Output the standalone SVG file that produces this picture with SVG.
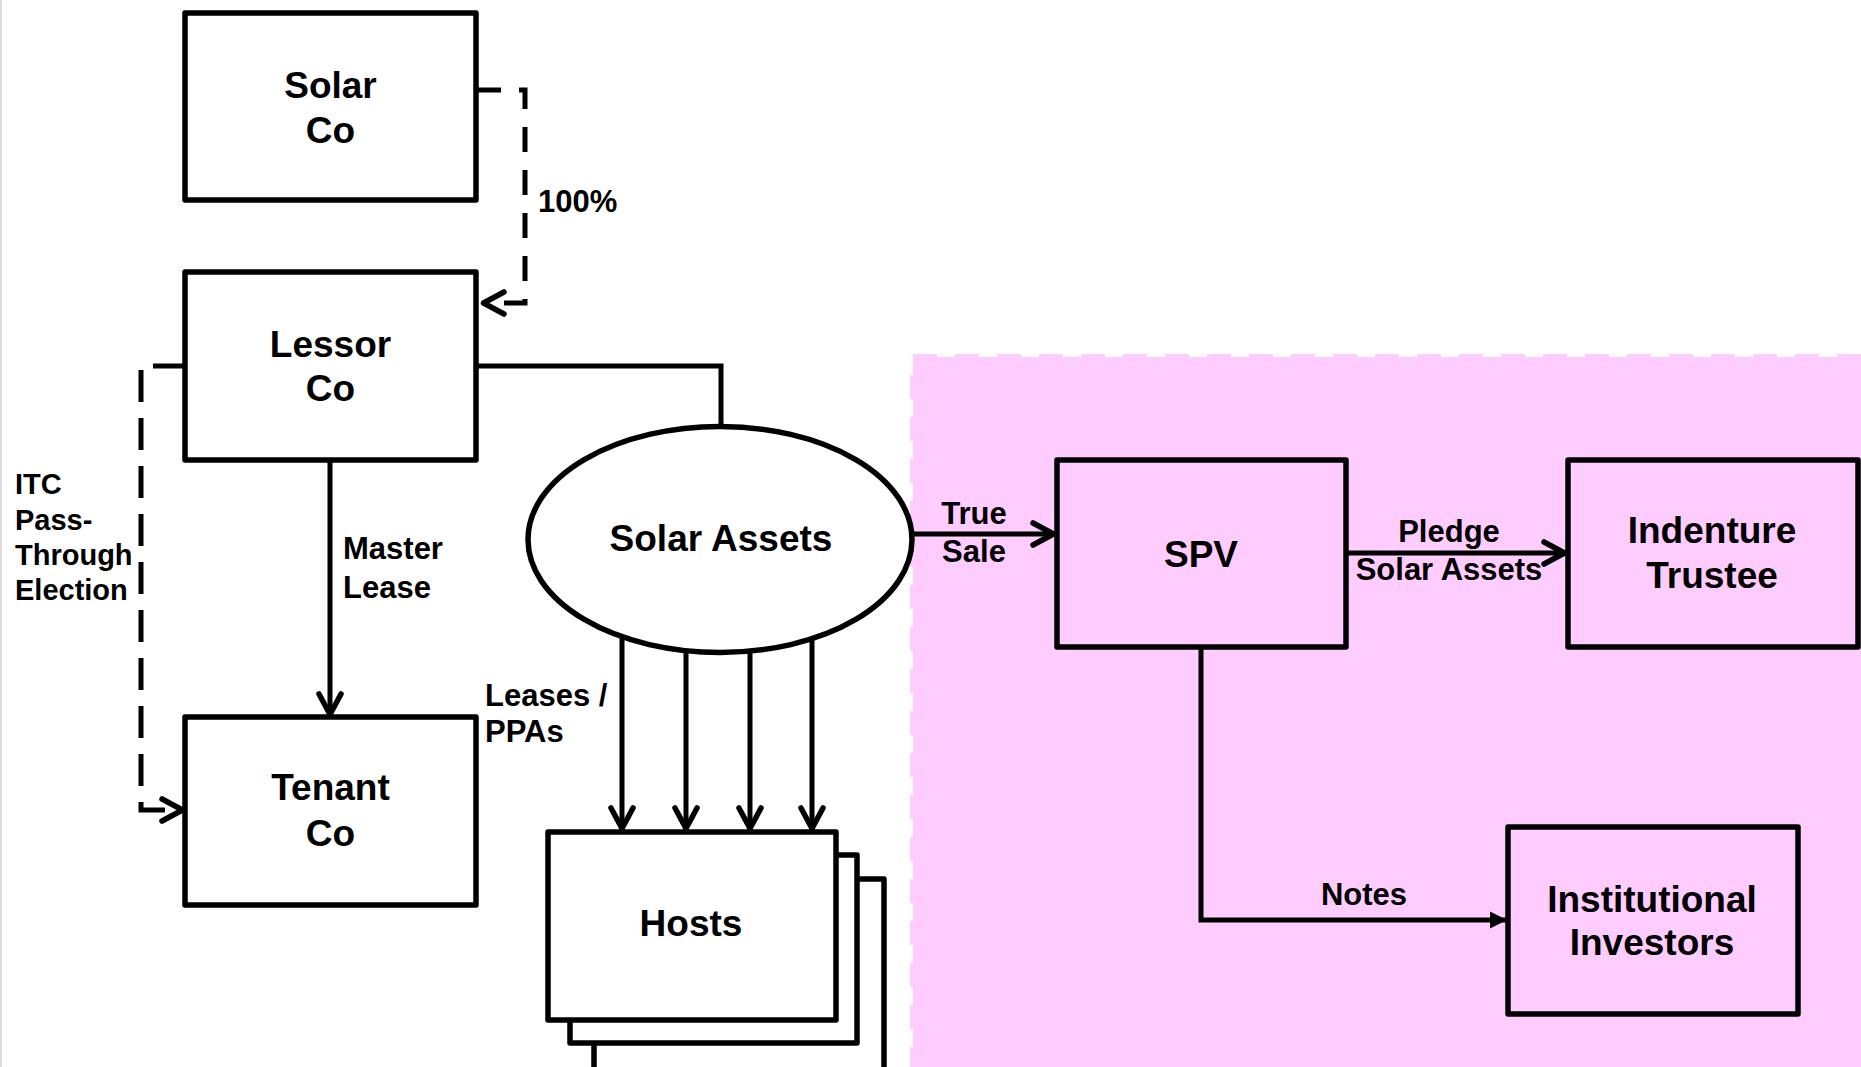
<svg xmlns="http://www.w3.org/2000/svg" width="1861" height="1067" viewBox="0 0 1861 1067">
  <style>
    .box { fill: #FFFFFF; stroke: #000; stroke-width: 5.5; stroke-linejoin: round; }
    .pbox { fill: #FFCCFF; stroke: #000; stroke-width: 5.5; stroke-linejoin: round; }
    .node { font-family: "Liberation Sans", Arial, sans-serif; font-weight: bold; font-size: 37px; fill: #000; text-anchor: middle; }
    .lbl { font-family: "Liberation Sans", Arial, sans-serif; font-weight: bold; font-size: 31px; fill: #000; }
    .itc { font-size: 29px; }
    .mid { text-anchor: middle; }
    .conn { fill: none; stroke: #000; stroke-width: 5; }
    .dash { stroke-dasharray: 25 18; }
    .dash2 { stroke-dasharray: 32 16; }
  </style>
  <defs>
    <marker id="open" markerUnits="userSpaceOnUse" markerWidth="34" markerHeight="34" viewBox="-30 -17 34 34" refX="0" refY="0" orient="auto">
      <path d="M-22,-11 L-1.5,0 L-22,11" fill="none" stroke="#000" stroke-width="5.5" stroke-linecap="round" stroke-linejoin="round"/>
    </marker>
    <marker id="solid" markerUnits="userSpaceOnUse" markerWidth="24" markerHeight="24" viewBox="-20 -12 24 24" refX="0" refY="0" orient="auto">
      <path d="M-17,-8.5 L0,0 L-17,8.5 Z" fill="#000"/>
    </marker>
  </defs>

  <rect x="0" y="0" width="1861" height="1067" fill="#FFFFFF"/>
  <line x1="1" y1="0" x2="1" y2="1067" stroke="#DDDDDD" stroke-width="2"/>

  <!-- pink region -->
  <rect id="spv-region" x="913" y="357" width="960" height="720" fill="#FFCCFF" stroke="#FFCCFF" stroke-width="6" stroke-dasharray="24 18"/>

  <g id="connectors">
    <!-- Solar Co -> Lessor Co 100% -->
    <path class="conn dash" d="M476,90 H525 V303 H482" marker-end="url(#open)"/>
    <!-- Lessor Co -> Tenant Co ITC -->
    <path class="conn dash2" d="M185,366 H141 V810 H184" marker-end="url(#open)"/>
    <!-- Master lease -->
    <path class="conn" d="M330,460 V716" marker-end="url(#open)"/>
    <!-- Lessor Co - Solar Assets -->
    <path class="conn" d="M476,366 H721 V427"/>
    <!-- Leases / PPAs -->
    <path class="conn" d="M622,637 V830" marker-end="url(#open)"/>
    <path class="conn" d="M686,651 V830" marker-end="url(#open)"/>
    <path class="conn" d="M750,651 V830" marker-end="url(#open)"/>
    <path class="conn" d="M812,638 V830" marker-end="url(#open)"/>
    <!-- True Sale -->
    <path class="conn" d="M912,534 H1055" marker-end="url(#open)"/>
    <!-- Pledge -->
    <path class="conn" d="M1346,553 H1566" marker-end="url(#open)"/>
    <!-- Notes -->
    <path class="conn" d="M1201,647 V920 H1507" marker-end="url(#solid)"/>
  </g>

  <g id="labels">
    <text class="lbl" x="538" y="212">100%</text>
    <text class="lbl itc" x="15" y="494">ITC</text>
    <text class="lbl itc" x="15" y="530">Pass-</text>
    <text class="lbl itc" x="15" y="565">Through</text>
    <text class="lbl itc" x="15" y="600">Election</text>
    <text class="lbl" x="343" y="559">Master</text>
    <text class="lbl" x="343" y="598">Lease</text>
    <text class="lbl" x="485" y="706">Leases /</text>
    <text class="lbl" x="485" y="742">PPAs</text>
    <text class="lbl mid" x="974" y="524">True</text>
    <text class="lbl mid" x="974" y="562">Sale</text>
    <text class="lbl mid" x="1449" y="542">Pledge</text>
    <text class="lbl mid" x="1449" y="580">Solar Assets</text>
    <text class="lbl mid" x="1364" y="905">Notes</text>
  </g>

  <g id="solar-co">
    <rect class="box" x="185" y="13" width="291" height="187"/>
    <text class="node" x="330.5" y="98">Solar</text>
    <text class="node" x="330.5" y="143">Co</text>
  </g>
  <g id="lessor-co">
    <rect class="box" x="185" y="272" width="291" height="188"/>
    <text class="node" x="330.5" y="357">Lessor</text>
    <text class="node" x="330.5" y="401">Co</text>
  </g>
  <g id="tenant-co">
    <rect class="box" x="185" y="717" width="291" height="188"/>
    <text class="node" x="330.5" y="800">Tenant</text>
    <text class="node" x="330.5" y="846">Co</text>
  </g>
  <g id="solar-assets">
    <ellipse cx="720" cy="539.5" rx="192" ry="113" fill="#FFFFFF" stroke="#000" stroke-width="5.5"/>
    <text class="node" x="721" y="551">Solar Assets</text>
  </g>
  <g id="hosts">
    <rect class="box" x="594" y="879" width="290" height="200"/>
    <rect class="box" x="570" y="855" width="287" height="188"/>
    <rect class="box" x="548" y="832" width="288" height="188"/>
    <text class="node" x="691" y="936">Hosts</text>
  </g>
  <g id="spv">
    <rect class="pbox" x="1057" y="460" width="289" height="187"/>
    <text class="node" x="1201" y="567">SPV</text>
  </g>
  <g id="indenture-trustee">
    <rect class="pbox" x="1568" y="460" width="290" height="187"/>
    <text class="node" x="1712" y="543">Indenture</text>
    <text class="node" x="1712" y="588">Trustee</text>
  </g>
  <g id="institutional-investors">
    <rect class="pbox" x="1508" y="827" width="290" height="187"/>
    <text class="node" x="1652" y="912">Institutional</text>
    <text class="node" x="1652" y="955">Investors</text>
  </g>
</svg>
